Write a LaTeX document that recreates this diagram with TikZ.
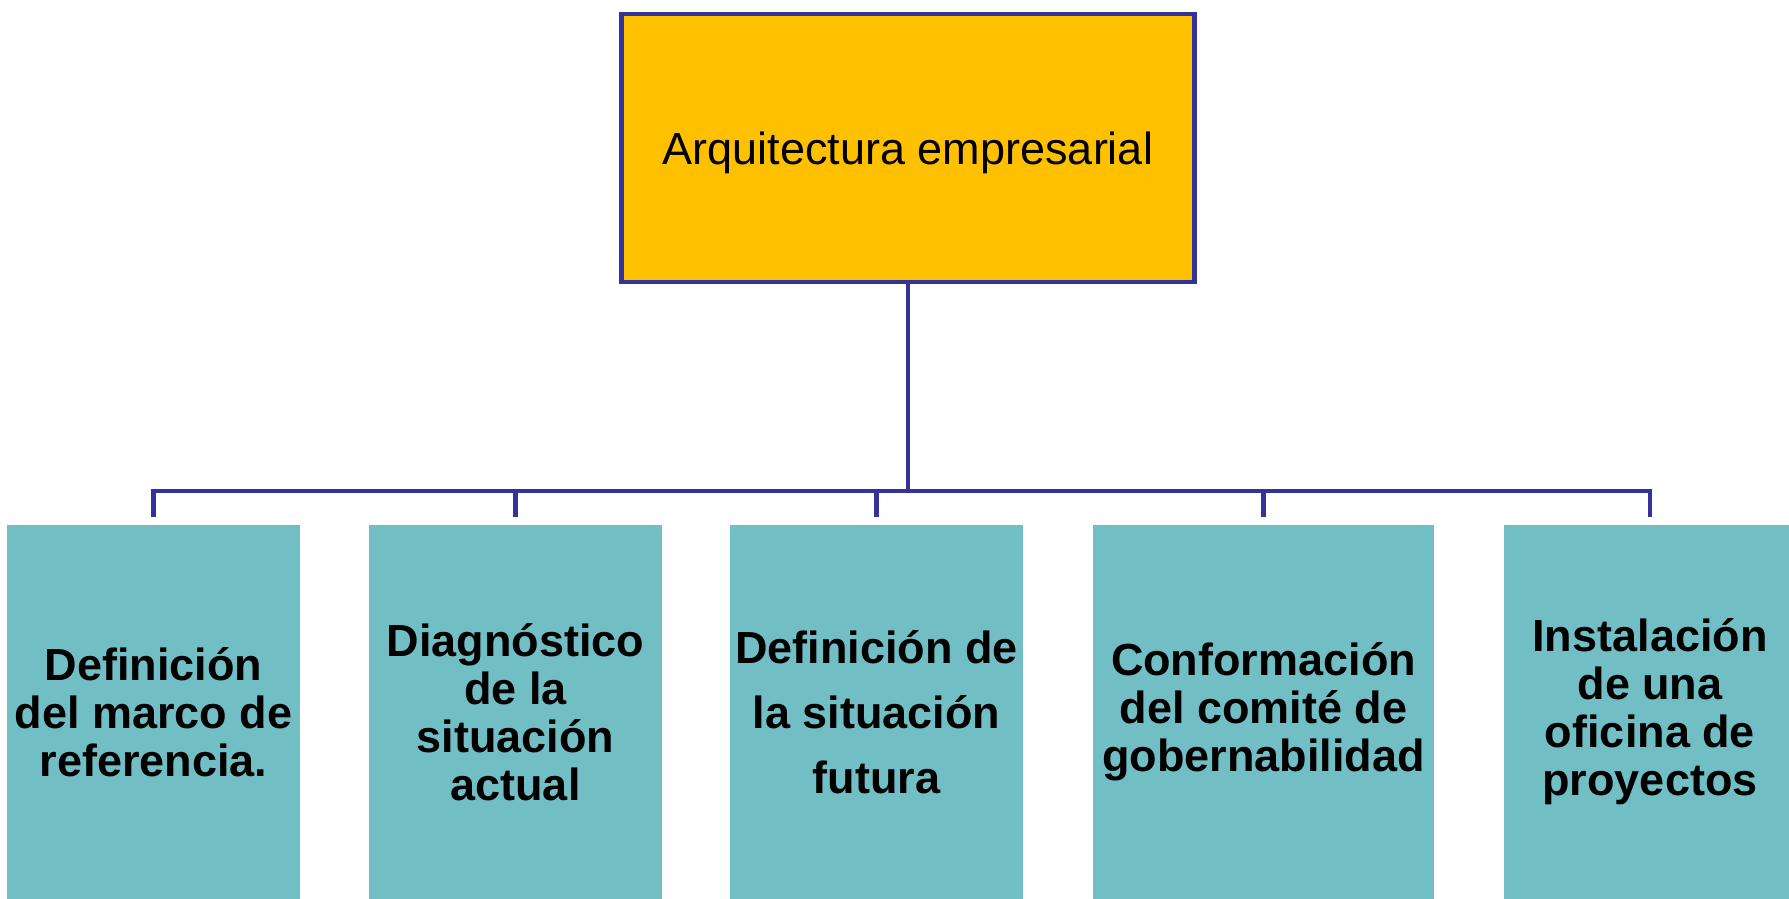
\documentclass[tikz,border=0pt]{standalone}
\usepackage{fontspec}
\setmainfont{Liberation Sans}
\definecolor{navy}{RGB}{51,51,153}
\definecolor{gold}{RGB}{255,192,0}
\definecolor{tealbox}{RGB}{114,190,197}
\begin{document}
\begin{tikzpicture}[x=1pt,y=-1pt,
  topbox/.style={draw=navy, line width=4.5pt, fill=gold, minimum width=573pt, minimum height=268pt, inner sep=0pt, text depth=0pt, font=\fontsize{45}{54}\selectfont},
  stagebox/.style={fill=tealbox, minimum width=293pt, minimum height=374pt, inner sep=0pt, align=center, text=black, font=\bfseries\fontsize{45}{48}\selectfont},
  conn/.style={draw=navy, line width=4.5pt}
]
\useasboundingbox (0,0) rectangle (1789,899);
\node[topbox] (top) at (908,148) {Arquitectura empresarial};
\node[stagebox] (b1) at (153.5,712) {Definición\\del marco de\\referencia.};
\node[stagebox] (b2) at (515.5,712) {Diagnóstico\\de la\\situación\\actual};
\node[stagebox, font=\bfseries\fontsize{45}{65}\selectfont] (b3) at (876.5,712) {Definición de\\la situación\\futura};
\node[stagebox, minimum width=341pt] (b4) at (1263.5,712) {Conformación\\del comité de\\gobernabilidad};
\node[stagebox] (b5) at (1650,712) {Instalación\\de una\\oficina de\\proyectos};
\coordinate (j) at (908,491);
\draw[conn] (top.south) -- (j);
\draw[conn, shorten <=8pt, shorten >=8pt] (b1.north) -- (b1.north |- j) -- (b5.north |- j) -- (b5.north);
\draw[conn, shorten >=8pt] (b2.north |- j) -- (b2.north);
\draw[conn, shorten >=8pt] (b3.north |- j) -- (b3.north);
\draw[conn, shorten >=8pt] (b4.north |- j) -- (b4.north);
\end{tikzpicture}
\end{document}
